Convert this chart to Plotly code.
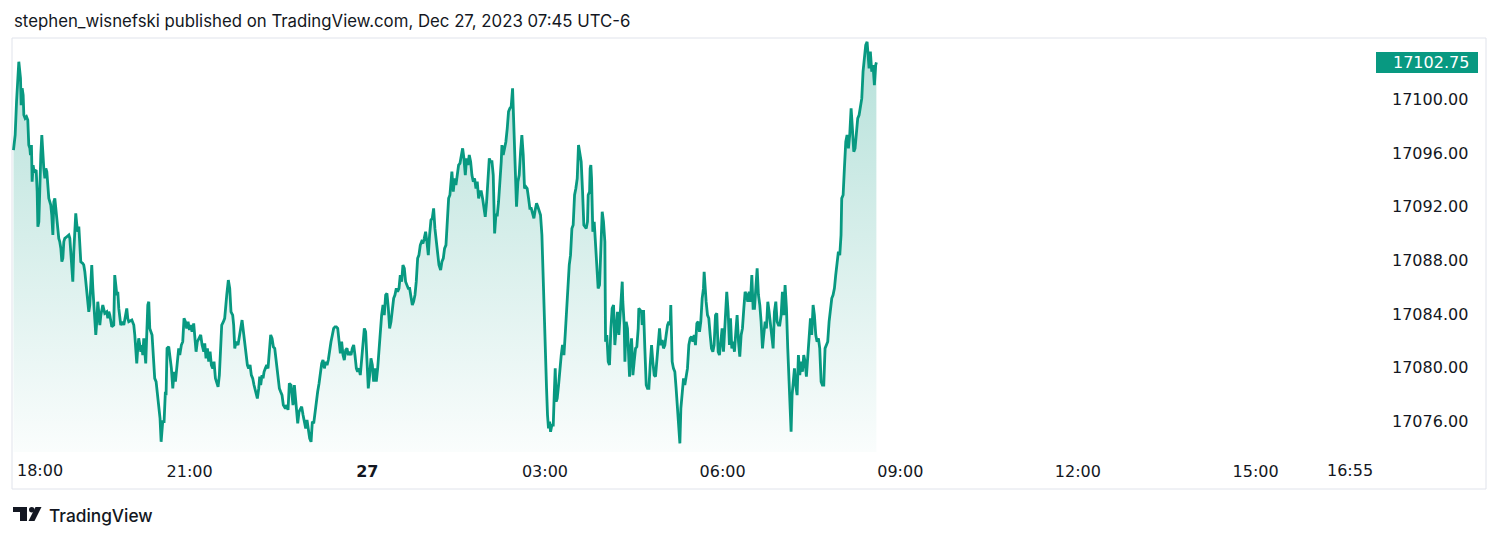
import numpy as np
import pandas as pd
import plotly.graph_objects as go

# ---------------- data ----------------
SESSION_START = "2023-12-26 18:00"
AXIS_END = "2023-12-27 17:00"
LAST_PRICE = 17102.75
TITLE = "stephen_wisnefski published on TradingView.com, Dec 27, 2023 07:45 UTC-6"

# minutes after 18:00 and price, split in sections of the session
eve_min = [1.5, 3.2, 4.6, 6.9, 8.6, 9.3, 10.3, 11.3, 12.0, 13.3, 14.7, 16.0, 17.0, 18.1, 18.7, 19.7, 20.4, 21.4, 22.4, 24.5,
           25.5, 26.2, 27.2, 28.2, 29.2, 30.2, 31.2, 32.2, 33.3, 34.3, 35.3, 36.3, 37.3, 39.3, 40.3, 41.4, 42.4, 43.4, 44.4, 45.4,
           46.4, 47.4, 48.4, 49.5, 50.5, 51.5, 52.5, 53.5, 55.5, 57.6, 58.6, 59.6, 60.6, 61.6, 62.6, 63.6, 64.6, 65.7, 66.7, 67.7,
           68.7, 69.7, 71.7, 72.7, 73.8, 74.8, 75.8, 76.8, 77.8, 78.8, 79.8, 80.8, 81.9, 82.9, 83.9, 84.9, 85.9, 86.9, 87.9, 89.0,
           90.0, 91.0, 92.0, 94.0, 96.0, 97.1, 98.1, 99.1, 100.1, 101.1, 103.1, 104.1, 105.2, 106.2, 107.2, 108.2, 110.2, 112.2, 113.3, 115.3,
           116.3, 117.3, 118.3, 121.4, 123.4, 124.4, 125.4, 126.4, 127.4, 128.4, 129.5, 130.5, 131.5, 132.5, 133.5, 134.5, 135.5, 136.5, 137.6, 138.6,
           139.6]
eve_px = [17096.22, 17097.34, 17099.82, 17102.80, 17101.56, 17099.57, 17100.82, 17100.32, 17098.83, 17098.58, 17098.70, 17098.46, 17096.59, 17096.35, 17095.85, 17096.59, 17093.86, 17095.10, 17094.61, 17094.73,
          17093.12, 17090.51, 17090.88, 17093.86, 17095.85, 17097.34, 17095.85, 17094.85, 17094.11, 17094.85, 17094.61, 17093.12, 17092.62, 17092.12, 17091.38, 17089.89, 17092.37, 17092.62, 17091.87, 17090.88,
          17090.13, 17089.64, 17089.39, 17088.89, 17087.90, 17088.15, 17089.39, 17089.64, 17089.76, 17089.89, 17089.64, 17088.39, 17087.40, 17086.41, 17088.64, 17090.88, 17091.50, 17090.63, 17090.13, 17090.51,
          17089.39, 17087.90, 17087.78, 17087.65, 17087.15, 17086.41, 17085.42, 17085.17, 17084.17, 17084.67, 17085.91, 17087.65, 17085.91, 17084.42, 17082.93, 17082.44, 17083.43, 17084.92, 17084.17, 17083.18,
          17083.92, 17084.42, 17084.67, 17084.05, 17084.17, 17083.68, 17084.17, 17083.92, 17083.43, 17083.05, 17083.18, 17086.90, 17086.16, 17085.42, 17085.66, 17084.42, 17083.18, 17083.43, 17083.18, 17083.92,
          17084.42, 17083.68, 17083.43, 17083.55, 17083.18, 17082.44, 17081.19, 17080.32, 17081.44, 17082.19, 17081.69, 17081.19, 17081.69, 17080.94, 17082.19, 17080.94, 17080.32, 17082.44, 17084.67, 17084.92,
          17082.93]

night_min = [141.9, 144.6, 146.0, 148.7, 150.0, 151.1, 152.7, 154.1, 155.4, 156.1, 157.1, 158.8, 160.5, 161.5, 162.9, 164.2, 165.6, 167.3, 168.9, 170.0,
             171.6, 173.0, 174.3, 175.7, 177.0, 178.4, 179.8, 181.1, 182.4, 184.1, 185.1, 186.5, 187.8, 189.2, 191.2, 192.6, 194.3, 195.3, 196.6, 198.0,
             199.3, 200.7, 202.0, 203.4, 204.7, 206.1, 207.8, 208.8, 210.1, 211.5, 212.5, 214.2, 215.5, 217.6, 219.2, 220.6, 221.9, 223.6, 224.6, 225.7,
             227.0, 229.0, 230.4, 231.7, 233.1, 234.4, 235.8, 237.1, 238.5, 239.8, 241.2, 242.5, 243.9, 245.2, 247.3, 248.6, 250.0, 251.0, 252.0, 253.3,
             254.4, 255.4, 256.7, 258.1, 259.4, 260.8, 262.1, 263.5, 264.8, 266.2, 267.5, 268.9, 270.9, 272.2, 273.6, 274.9, 277.0, 278.3, 279.7, 281.0,
             282.7, 283.7, 284.7, 286.1]
night_px = [17082.44, 17079.21, 17078.96, 17076.97, 17076.22, 17074.48, 17075.98, 17075.98, 17078.21, 17077.96, 17081.44, 17081.56, 17080.45, 17079.95, 17078.46, 17079.70, 17078.96, 17080.20, 17081.44, 17080.94,
            17081.69, 17081.94, 17083.68, 17083.43, 17082.93, 17083.43, 17082.81, 17083.18, 17082.68, 17083.30, 17082.44, 17081.19, 17081.94, 17082.19, 17082.44, 17081.69, 17081.19, 17081.81, 17080.70, 17081.44,
            17080.45, 17081.19, 17080.20, 17079.95, 17080.45, 17079.21, 17078.83, 17078.58, 17079.45, 17081.19, 17083.18, 17083.43, 17083.68, 17085.42, 17086.53, 17085.91, 17084.17, 17083.92, 17083.18, 17081.44,
            17081.94, 17081.69, 17082.19, 17082.93, 17083.55, 17082.68, 17081.94, 17080.94, 17080.20, 17079.95, 17080.20, 17079.45, 17079.21, 17078.71, 17077.96, 17077.71, 17078.46, 17079.33, 17078.71, 17079.45,
            17079.21, 17079.70, 17079.95, 17080.20, 17079.95, 17081.44, 17082.44, 17082.19, 17081.56, 17081.44, 17080.70, 17079.95, 17078.46, 17078.21, 17077.96, 17077.22, 17076.97, 17077.22, 17076.85, 17078.83,
            17078.71, 17077.96, 17077.22, 17078.71]

late_min = [288.1, 289.5, 290.8, 292.2, 293.5, 294.9, 296.2, 297.6, 298.9, 300.3, 301.6, 303.0, 304.3, 305.7, 307.0, 308.4, 309.7, 311.1, 312.4, 313.8,
            315.1, 316.5, 317.8, 319.2, 320.5, 321.9, 323.2, 324.6, 325.9, 327.3, 328.6, 330.0, 331.3, 332.7, 334.0, 335.4, 336.7, 338.1, 339.4, 340.8,
            342.1, 343.5, 344.8, 346.2, 347.5, 348.9, 350.2, 351.6, 352.9, 354.3, 355.6, 357.0, 358.3, 359.7, 361.0, 362.4, 363.7, 365.1, 366.4, 367.8,
            369.1, 370.5, 371.8, 373.2, 374.5, 375.9, 377.2, 378.6, 379.9, 381.3, 382.6, 384.0, 385.3, 386.7, 388.0, 389.4, 390.7, 392.1, 393.4, 394.8,
            396.1, 397.5, 398.8, 400.2, 401.5, 402.9, 404.2, 405.6, 406.9, 408.3, 409.6, 411.0, 412.3, 413.7, 415.0, 416.4, 417.7, 419.1, 420.4, 421.8,
            423.1, 424.5, 425.8, 427.2, 428.5, 429.9, 431.2, 432.6]
late_px = [17076.97, 17075.85, 17076.72, 17076.97, 17077.10, 17076.47, 17075.98, 17075.48, 17076.10, 17075.23, 17074.73, 17074.48, 17075.98, 17075.85, 17076.72, 17077.47, 17078.21, 17078.83, 17079.45, 17080.32,
           17080.57, 17079.95, 17080.45, 17080.20, 17080.57, 17081.44, 17081.94, 17082.44, 17082.93, 17083.05, 17083.05, 17082.93, 17082.19, 17081.07, 17081.94, 17080.94, 17080.57, 17081.32, 17081.44, 17080.94,
           17081.19, 17080.94, 17081.44, 17081.69, 17080.94, 17079.95, 17079.70, 17079.95, 17079.45, 17080.70, 17081.94, 17082.93, 17082.68, 17080.94, 17078.46, 17079.45, 17080.70, 17080.20, 17078.96, 17079.95,
           17078.96, 17079.95, 17081.44, 17082.93, 17083.92, 17084.67, 17083.92, 17085.42, 17085.54, 17084.42, 17082.93, 17083.43, 17084.42, 17085.17, 17085.42, 17085.91, 17085.66, 17085.91, 17086.90, 17086.41,
           17087.65, 17087.40, 17086.41, 17086.16, 17085.91, 17085.91, 17085.42, 17084.67, 17084.92, 17085.42, 17086.41, 17088.15, 17088.39, 17089.14, 17089.39, 17089.27, 17089.64, 17090.13, 17089.39, 17088.39,
           17089.89, 17091.00, 17091.13, 17091.87, 17090.38, 17089.39, 17088.89, 17087.65]

early_min = [434.3, 435.6, 437.0, 438.3, 439.7, 441.0, 442.4, 443.7, 445.1, 445.7, 447.1, 448.4, 449.8, 451.1, 452.5, 453.9, 455.2, 456.6, 457.9, 459.3,
             460.6, 462.0, 463.3, 464.7, 466.0, 467.4, 468.7, 470.1, 471.4, 472.8, 474.1, 475.5, 476.8, 478.2, 479.5, 480.9, 482.2, 483.6, 484.9, 486.3,
             487.6, 489.0, 490.3, 491.7, 493.0, 494.4, 495.7, 496.4, 497.7, 499.1, 500.4, 501.8, 503.1, 504.5, 505.8, 507.2, 508.5, 509.9, 511.2, 512.6,
             513.9, 515.3, 516.6, 518.0, 519.3, 520.7, 522.0, 523.4, 524.7, 526.1, 527.4, 528.8, 530.1, 531.5, 532.8, 534.2, 535.5, 536.9, 537.9, 538.9,
             540.3, 541.6, 542.6, 543.6, 544.7, 545.7, 547.0, 548.4, 549.4, 550.4, 551.4, 552.4, 553.8, 555.1, 556.5, 557.8, 559.2, 560.5, 561.9, 563.2,
             564.6, 565.9, 567.3, 568.6, 570.0, 571.3, 572.7, 574.0, 575.4, 576.7, 578.1, 579.4]
early_px = [17087.28, 17087.90, 17088.15, 17088.89, 17089.14, 17090.88, 17092.62, 17092.87, 17094.36, 17094.61, 17093.12, 17094.11, 17093.61, 17094.36, 17095.10, 17095.23, 17095.85, 17096.35, 17095.60, 17094.36,
            17095.60, 17095.10, 17095.85, 17095.35, 17094.36, 17093.86, 17094.11, 17093.36, 17093.86, 17092.62, 17093.12, 17093.12, 17092.62, 17091.87, 17091.25, 17092.37, 17093.86, 17095.60, 17095.35, 17095.35,
            17094.36, 17090.01, 17091.38, 17091.38, 17092.37, 17093.61, 17095.35, 17096.59, 17095.85, 17096.35, 17096.84, 17097.84, 17099.08, 17099.33, 17099.45, 17100.82, 17098.33, 17095.60, 17092.00, 17093.86,
            17094.36, 17096.10, 17097.34, 17095.85, 17093.36, 17093.49, 17093.36, 17092.62, 17091.87, 17091.87, 17091.38, 17091.13, 17091.75, 17092.25, 17092.00, 17091.75, 17091.38, 17089.89, 17087.40, 17083.68,
            17079.95, 17078.46, 17076.47, 17075.48, 17075.98, 17075.23, 17075.73, 17075.73, 17077.96, 17079.95, 17077.47, 17077.71, 17078.71, 17079.95, 17080.94, 17081.69, 17080.94, 17082.44, 17084.42, 17085.91,
            17087.65, 17088.39, 17090.38, 17090.63, 17092.87, 17093.36, 17094.11, 17096.59, 17095.85, 17095.35, 17093.12, 17090.63]

morning_min = [581.8, 583.1, 583.8, 585.2, 585.8, 586.5, 587.2, 587.9, 588.5, 589.9, 591.2, 592.6, 593.9, 595.3, 596.6, 598.0, 599.3, 600.7, 601.4, 602.7,
               604.1, 605.4, 606.8, 608.1, 609.5, 610.8, 612.2, 613.5, 614.9, 616.2, 617.6, 618.3, 618.9, 620.3, 621.0, 622.3, 623.6, 625.0, 625.7, 626.4,
               627.7, 628.4, 629.1, 630.4, 631.8, 633.1, 634.5, 635.1, 636.5, 637.8, 638.5, 639.9, 641.2, 642.6, 643.9, 645.3, 646.6, 648.0, 649.3, 650.7,
               652.0, 653.4, 654.7, 656.1, 657.4, 658.8, 660.1, 661.5, 662.8, 664.2, 665.5, 666.9, 667.5, 668.9, 670.2, 671.6, 672.9, 674.3, 675.6, 676.7,
               677.7, 679.0, 680.4, 681.7, 683.1, 684.4, 685.8, 687.1, 688.5, 689.8, 691.2, 692.5, 693.9, 695.2, 696.6, 697.9, 699.3, 700.6, 701.3, 702.0,
               703.3, 704.7, 706.0, 707.4, 708.7, 710.1, 711.4, 712.8, 714.1, 715.5, 716.8, 718.2, 719.5, 720.9, 722.2, 722.9, 724.2, 725.6, 726.9]
morning_px = [17090.38, 17090.88, 17092.87, 17093.12, 17094.85, 17095.10, 17094.11, 17092.37, 17090.13, 17090.88, 17088.89, 17086.90, 17085.91, 17086.16, 17088.64, 17091.62, 17090.88, 17089.39, 17081.94, 17082.44,
              17080.45, 17080.20, 17082.93, 17084.42, 17084.67, 17081.69, 17082.93, 17084.17, 17082.44, 17083.68, 17085.17, 17086.41, 17084.92, 17083.18, 17080.45, 17083.43, 17082.93, 17079.70, 17079.33, 17080.94,
              17082.19, 17081.19, 17079.45, 17080.45, 17081.44, 17081.56, 17082.93, 17084.42, 17084.30, 17084.17, 17083.18, 17084.30, 17081.44, 17078.71, 17078.46, 17078.46, 17080.20, 17081.69, 17080.45, 17079.45,
              17079.33, 17080.70, 17081.94, 17082.93, 17081.69, 17082.07, 17081.44, 17081.69, 17082.44, 17083.18, 17083.43, 17083.18, 17084.67, 17080.45, 17079.95, 17079.70, 17078.46, 17076.72, 17075.48, 17074.36,
              17076.97, 17078.46, 17079.21, 17078.71, 17079.21, 17079.95, 17081.69, 17082.19, 17082.31, 17081.94, 17082.44, 17081.69, 17083.30, 17083.43, 17082.68, 17083.43, 17085.17, 17085.91, 17087.15, 17085.91,
              17084.92, 17083.92, 17083.68, 17082.44, 17081.44, 17081.19, 17081.69, 17083.92, 17084.05, 17081.19, 17080.94, 17081.94, 17082.93, 17081.19, 17083.18, 17083.68, 17085.66, 17084.17, 17081.69]

open_min = [728.0, 729.3, 730.7, 732.0, 733.4, 734.7, 736.1, 737.4, 738.8, 740.1, 741.5, 742.8, 744.2, 745.5, 746.9, 748.2, 749.6, 750.9, 752.3, 753.6,
            755.0, 756.3, 757.7, 759.0, 760.4, 761.7, 763.1, 764.4, 765.8, 767.1, 768.5, 769.8, 771.2, 772.5, 773.9, 775.2, 776.6, 777.9, 779.3, 780.6,
            782.0, 783.3, 784.7, 786.0, 787.4, 788.7, 789.4, 790.4, 791.4, 792.8, 794.1, 795.5, 796.8, 798.2, 799.5, 800.9, 802.2, 803.6, 804.9, 806.3,
            807.6, 809.0, 810.3, 811.7, 813.0, 814.4, 815.7, 817.1, 818.4, 819.8, 821.1, 822.5, 823.8, 825.2, 826.5, 827.9, 829.2, 830.6, 831.9, 833.3,
            834.6, 836.0, 837.3, 838.7, 840.0, 840.7, 842.1, 843.4, 844.8, 846.1, 847.5, 848.8, 850.2, 851.5, 852.9, 854.2, 855.6, 856.9, 858.3, 859.6,
            861.0, 862.3, 863.7, 865.0, 866.4, 867.7, 868.4, 869.7, 871.1, 872.4, 873.8, 875.1, 875.8]
open_px = [17083.68, 17081.44, 17081.94, 17081.19, 17082.68, 17083.92, 17081.94, 17080.82, 17082.44, 17082.93, 17084.42, 17085.66, 17085.42, 17084.92, 17085.66, 17084.92, 17086.90, 17084.42, 17084.42, 17086.41,
           17087.40, 17085.42, 17084.67, 17083.43, 17081.44, 17082.44, 17083.43, 17082.93, 17084.92, 17084.17, 17083.18, 17082.68, 17081.44, 17084.17, 17084.92, 17083.43, 17083.18, 17083.18, 17083.92, 17085.66,
           17083.92, 17086.16, 17084.42, 17081.44, 17079.21, 17076.22, 17075.23, 17077.96, 17078.96, 17079.95, 17078.71, 17077.96, 17080.94, 17079.45, 17080.45, 17079.70, 17080.94, 17080.45, 17079.33, 17080.70,
           17081.94, 17083.68, 17082.44, 17084.67, 17083.92, 17082.44, 17081.94, 17082.19, 17081.44, 17078.96, 17078.71, 17078.71, 17081.44, 17081.69, 17081.94, 17083.43, 17084.42, 17085.17, 17085.42, 17085.91,
           17086.90, 17087.90, 17088.64, 17088.39, 17089.89, 17092.62, 17092.87, 17094.85, 17096.84, 17097.34, 17096.35, 17097.34, 17099.33, 17097.84, 17096.10, 17096.35, 17097.84, 17098.58, 17098.83, 17099.57,
           17100.07, 17102.06, 17103.30, 17104.04, 17104.29, 17103.30, 17102.31, 17103.55, 17102.06, 17102.55, 17101.06, 17102.55, 17102.75]

X_TICKS = ["2023-12-26 21:00", "2023-12-27 00:00", "2023-12-27 03:00", "2023-12-27 06:00",
           "2023-12-27 09:00", "2023-12-27 12:00", "2023-12-27 15:00"]
X_TICK_TEXT = ["21:00", "<b>27</b>", "03:00", "06:00", "09:00", "12:00", "15:00"]
FIRST_LABEL = ("2023-12-26 18:00", "18:00")
LAST_LABEL = ("2023-12-27 16:55", "16:55")
Y_TICKS = [17076, 17080, 17084, 17088, 17092, 17096, 17100]
Y_RANGE = [17073.72, 17104.57]

# ---------------- figure ----------------
GREEN = "#089981"
TEXT = "#131722"
UI_FONT = "Inter, Roboto, sans-serif"
AXIS_FONT = "'DejaVu Sans', Verdana, sans-serif"

minutes = np.concatenate([eve_min, night_min, late_min, early_min, morning_min, open_min])
prices = np.concatenate([eve_px, night_px, late_px, early_px, morning_px, open_px])
times = pd.Timestamp(SESSION_START) + pd.to_timedelta(minutes, unit="m")

W, H = 1500, 539
ML, MR, MT, MB = 12, 126, 38, 87
PW, PH = W - ML - MR, H - MT - MB


def px_x(px):
    return (px - ML) / PW


def px_y(py):
    return (H - MB - py) / PH


fig = go.Figure()
fig.add_trace(go.Scatter(
    x=times, y=prices, mode="lines",
    line=dict(color=GREEN, width=2.8),
    fill="tozeroy",
    fillgradient=dict(type="vertical",
                      colorscale=[[0, "rgba(8,153,129,0.02)"], [1, "rgba(8,153,129,0.30)"]],
                      start=Y_RANGE[0], stop=Y_RANGE[1]),
    hoverinfo="skip", showlegend=False,
))

fig.update_layout(
    width=W, height=H,
    margin=dict(l=ML, r=MR, t=MT, b=MB),
    paper_bgcolor="white", plot_bgcolor="white",
    font=dict(family=UI_FONT, color=TEXT, size=15),
    showlegend=False,
)
fig.update_xaxes(
    type="date", range=[SESSION_START, AXIS_END],
    tickvals=X_TICKS, ticktext=X_TICK_TEXT,
    showgrid=False, zeroline=False, showline=False, ticks="",
    ticklabelstandoff=8, tickfont=dict(family=AXIS_FONT, size=16, color=TEXT),
)
fig.update_yaxes(
    side="right", range=Y_RANGE, tickvals=Y_TICKS, tickformat=".2f",
    showgrid=False, zeroline=False, showline=False, ticks="",
    ticklabelstandoff=17, tickfont=dict(family=AXIS_FONT, size=16, color=TEXT),
)

# frame around the chart
fig.add_shape(type="rect", xref="paper", yref="paper",
              x0=px_x(12), x1=px_x(1486), y0=px_y(489), y1=px_y(38),
              line=dict(color="#e0e3eb", width=1), layer="below")

# last-price badge on the price scale
fig.add_shape(type="rect", xref="paper", yref="y", ysizemode="pixel", yanchor=LAST_PRICE,
              x0=px_x(1376), x1=px_x(1478), y0=-10.5, y1=10.5,
              fillcolor=GREEN, line=dict(width=0))

# TradingView logo glyph
LOGO = dict(fillcolor=TEXT, line=dict(width=0), xref="paper", yref="paper")
fig.add_shape(type="rect", x0=px_x(13), x1=px_x(27), y0=px_y(512), y1=px_y(507), **LOGO)
fig.add_shape(type="rect", x0=px_x(20), x1=px_x(27), y0=px_y(521), y1=px_y(507), **LOGO)
fig.add_shape(type="circle", x0=px_x(29), x1=px_x(34.5), y0=px_y(512.5), y1=px_y(507), **LOGO)
fig.add_shape(type="path",
              path=f"M {px_x(35.5)} {px_y(507)} L {px_x(41.5)} {px_y(507)} L {px_x(34.5)} {px_y(521)} L {px_x(28.5)} {px_y(521)} Z",
              **LOGO)

annotations = [
    dict(text=TITLE, xref="paper", yref="paper", x=px_x(12), y=px_y(21),
         xanchor="left", yanchor="middle", showarrow=False, font=dict(size=16.8, color=TEXT)),
    dict(text="TradingView", xref="paper", yref="paper", x=px_x(47), y=px_y(515),
         xanchor="left", yanchor="middle", showarrow=False, font=dict(size=17.3, color=TEXT, weight=500)),
    dict(text=FIRST_LABEL[1], xref="x", yref="paper", x=FIRST_LABEL[0], y=px_y(470),
         xanchor="left", yanchor="middle", xshift=2.5, showarrow=False,
         font=dict(family=AXIS_FONT, size=16, color=TEXT)),
    dict(text=LAST_LABEL[1], xref="x", yref="paper", x=LAST_LABEL[0], y=px_y(470),
         xanchor="right", yanchor="middle", xshift=6, showarrow=False,
         font=dict(family=AXIS_FONT, size=16, color=TEXT)),
    dict(text=f"{LAST_PRICE:.2f}", xref="paper", yref="y", x=px_x(1391), y=LAST_PRICE,
         xanchor="left", yanchor="middle", showarrow=False,
         font=dict(family=AXIS_FONT, size=16, color="white")),
]
fig.update_layout(annotations=annotations)

fig.write_html("out.html", config={"displayModeBar": False},
               post_script="document.body.style.margin='0';")
